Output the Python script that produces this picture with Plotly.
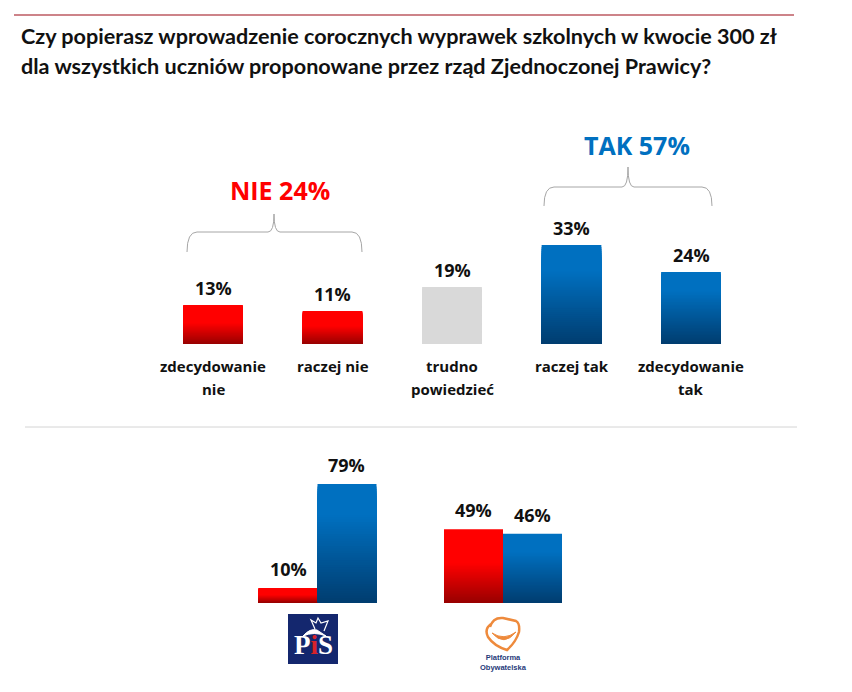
import plotly.graph_objects as go

# the page body keeps an 8px margin, so the figure is 8px smaller than the shot
PAGE = 8
W, H = 852 - PAGE, 692 - PAGE

# top chart data
top_labels_1 = ['zdecydowanie', 'raczej nie', 'trudno', 'raczej tak', 'zdecydowanie']
top_labels_2 = ['nie', '', 'powiedzieć', '', 'tak']
top_values = [13, 11, 19, 33, 24]
top_kinds = ['nie', 'nie', 'brak', 'tak', 'tak']

# bottom chart data
party_names = ['PiS', 'Platforma Obywatelska']
party_nie = [10, 49]
party_tak = [79, 46]

title_lines = [
    'Czy popierasz wprowadzenie corocznych wyprawek szkolnych w kwocie 300 zł',
    'dla wszystkich uczniów proponowane przez rząd Zjednoczonej Prawicy?',
]

RED = '#ff0000'
BLUE = '#0070c0'
STEPS = 50


def px(x, y):
    return (x - PAGE) / W, 1 - (y - PAGE) / H


def mix(c1, c2, t):
    return 'rgb(%d,%d,%d)' % tuple(round(a + (b - a) * t) for a, b in zip(c1, c2))


def shade(kind, t):
    # t = 0 at the bottom of a bar, 1 at the top
    if kind == 'nie':
        return mix((150, 0, 0), (255, 0, 0), min(t / 0.55, 1))
    if kind == 'tak':
        return mix((0, 60, 110), (0, 112, 192), min(t / 0.75, 1))
    return '#d9d9d9'


def path(cmds):
    out = []
    for c in cmds:
        nums = []
        for i in range(1, len(c), 2):
            a, b = px(c[i], c[i + 1])
            nums.append(f'{a:.5f},{b:.5f}')
        out.append(c[0] + ' ' + ' '.join(nums))
    return ' '.join(out)


def brace(left, right, mid, y_line, y_end, y_tip):
    return path([
        ('M', left, y_end), ('Q', left, y_line, left + 10, y_line),
        ('L', mid - 6, y_line), ('Q', mid, y_line, mid, y_tip),
        ('Q', mid, y_line, mid + 6, y_line),
        ('L', right - 10, y_line), ('Q', right, y_line, right, y_end),
    ])


fig = go.Figure()

# gradient bars: taller dark-to-bright layers, each shorter one painted on top
top_x = list(range(len(top_values)))
for k in range(STEPS):
    f = 1 - k / STEPS
    fig.add_trace(go.Bar(
        x=top_x,
        y=[v * f for v in top_values],
        width=0.5,
        marker=dict(color=[shade(kd, f) for kd in top_kinds], line_width=0),
        xaxis='x', yaxis='y', showlegend=False, hoverinfo='skip',
    ))

party_x = list(range(len(party_names)))
for k in range(STEPS):
    f = 1 - k / STEPS
    fig.add_trace(go.Bar(
        x=party_x,
        y=[v * f for v in party_nie],
        width=0.318, offset=-0.318,
        marker=dict(color=shade('nie', f), line_width=0),
        xaxis='x2', yaxis='y2', showlegend=False, hoverinfo='skip',
    ))
    fig.add_trace(go.Bar(
        x=party_x,
        y=[v * f for v in party_tak],
        width=0.318, offset=0,
        marker=dict(color=shade('tak', f), line_width=0),
        xaxis='x2', yaxis='y2', showlegend=False, hoverinfo='skip',
    ))

annotations = []


def text_at(x, y, text, size, color='#111111', anchor='center', family='Open Sans', bold=True):
    ax, ay = px(x, y)
    annotations.append(dict(
        x=ax, y=ay, xref='paper', yref='paper', text=f'<b>{text}</b>' if bold else text,
        showarrow=False, xanchor=anchor, yanchor='middle',
        font=dict(family=family, size=size, color=color),
    ))


def value_label(x, y, xref, yref, shift=3):
    annotations.append(dict(
        x=x, y=y, xref=xref, yref=yref, text=f'<b>{y}%</b>',
        showarrow=False, xanchor='center', yanchor='bottom', yshift=shift,
        font=dict(family='Open Sans', size=18, color='#111111'),
    ))


for x, v in zip(top_x, top_values):
    value_label(x, v, 'x', 'y')
for x, v in zip(party_x, party_nie):
    value_label(x - 0.159, v, 'x2', 'y2', shift=5)
for x, v in zip(party_x, party_tak):
    value_label(x + 0.159, v, 'x2', 'y2', shift=5)

for i, (a, b) in enumerate(zip(top_labels_1, top_labels_2)):
    cx = 213 + i * 119.5
    text_at(cx, 366, a, 15)
    if b:
        text_at(cx, 389, b, 15)

text_at(18.5, 36, title_lines[0], 21.6, anchor='left', family='Lato')
text_at(18.5, 66, title_lines[1], 21.6, anchor='left', family='Lato')
text_at(280, 190, 'NIE 24%', 25, color=RED)
text_at(637, 145, 'TAK 57%', 25, color=BLUE)

# PiS logo text
text_at(313, 645, 'P<span style="color:#d8232a">i</span>S', 27, color='white', family='Liberation Serif')
# PO logo text
text_at(503, 662.5, 'Platforma<br>Obywatelska', 7.5, color='#1f3a7a', family='Liberation Sans')

x0, y0 = px(14, 15)
x1, _ = px(794, 15)
x2, y2 = px(25, 427)
x3, _ = px(797, 427)
lx0, ly0 = px(288, 614)
lx1, ly1 = px(338, 664)

shapes = [
    dict(type='line', xref='paper', yref='paper', x0=x0, x1=x1, y0=y0, y1=y0,
         line=dict(color='#bc5a62', width=1.5)),
    dict(type='line', xref='paper', yref='paper', x0=x2, x1=x3, y0=y2, y1=y2,
         line=dict(color='#d4d4d4', width=1)),
    dict(type='path', xref='paper', yref='paper', path=brace(187, 362, 274, 232, 252, 214),
         line=dict(color='#a6a6a6', width=1)),
    dict(type='path', xref='paper', yref='paper', path=brace(544, 712, 628, 187, 206, 167),
         line=dict(color='#a6a6a6', width=1)),
    # PiS logo
    dict(type='rect', xref='paper', yref='paper', x0=lx0, x1=lx1, y0=ly0, y1=ly1,
         fillcolor='#14276e', line_width=0),
    dict(type='path', xref='paper', yref='paper',
         path=path([('M', 303, 636), ('Q', 310, 628, 317, 630), ('L', 326, 636),
                    ('Q', 314, 631, 303, 636), ('Z',)]),
         fillcolor='white', line=dict(color='white', width=1)),
    dict(type='path', xref='paper', yref='paper',
         path=path([('M', 315, 629), ('L', 311, 620), ('L', 316, 623), ('L', 318, 618),
                    ('L', 321, 623), ('L', 328, 621), ('L', 324, 631)]),
         line=dict(color='white', width=1.2)),
    # PO logo
    dict(type='path', xref='paper', yref='paper',
         path=path([('M', 490, 627), ('Q', 493, 617, 503, 618), ('L', 516, 621), ('Q', 520, 623, 519, 632),
                    ('Q', 516, 642, 507, 650), ('Q', 494, 646, 488, 637), ('Q', 484, 629, 491, 624)]),
         line=dict(color='#ee8a3c', width=2.5)),
    dict(type='path', xref='paper', yref='paper',
         path=path([('M', 492, 633), ('Q', 504, 647, 516, 632), ('Q', 504, 641, 492, 633), ('Z',)]),
         fillcolor='#ee8a3c', line=dict(color='#ee8a3c', width=1)),
]

# plot areas placed so that the scales match the bars in pixels
ax0, _ = px(153.25, 0)
ax1, _ = px(750.75, 0)
_, ay0 = px(0, 344)
_, ay1 = px(0, 200)
bx0, _ = px(224.75, 0)
bx1, _ = px(595.75, 0)
_, by0 = px(0, 603)
_, by1 = px(0, 450)

fig.update_layout(
    width=W, height=H,
    margin=dict(l=0, r=0, t=0, b=0),
    paper_bgcolor='white', plot_bgcolor='white',
    barmode='overlay',
    showlegend=False,
    annotations=annotations,
    shapes=shapes,
    xaxis=dict(domain=[ax0, ax1], range=[-0.5, 4.5], visible=False),
    yaxis=dict(domain=[ay0, ay1], range=[0, 48], visible=False),
    xaxis2=dict(domain=[bx0, bx1], range=[-0.5, 1.5], visible=False, anchor='y2'),
    yaxis2=dict(domain=[by0, by1], range=[0, 153 / 1.506], visible=False, anchor='x2'),
)

fig.write_html("out.html")
